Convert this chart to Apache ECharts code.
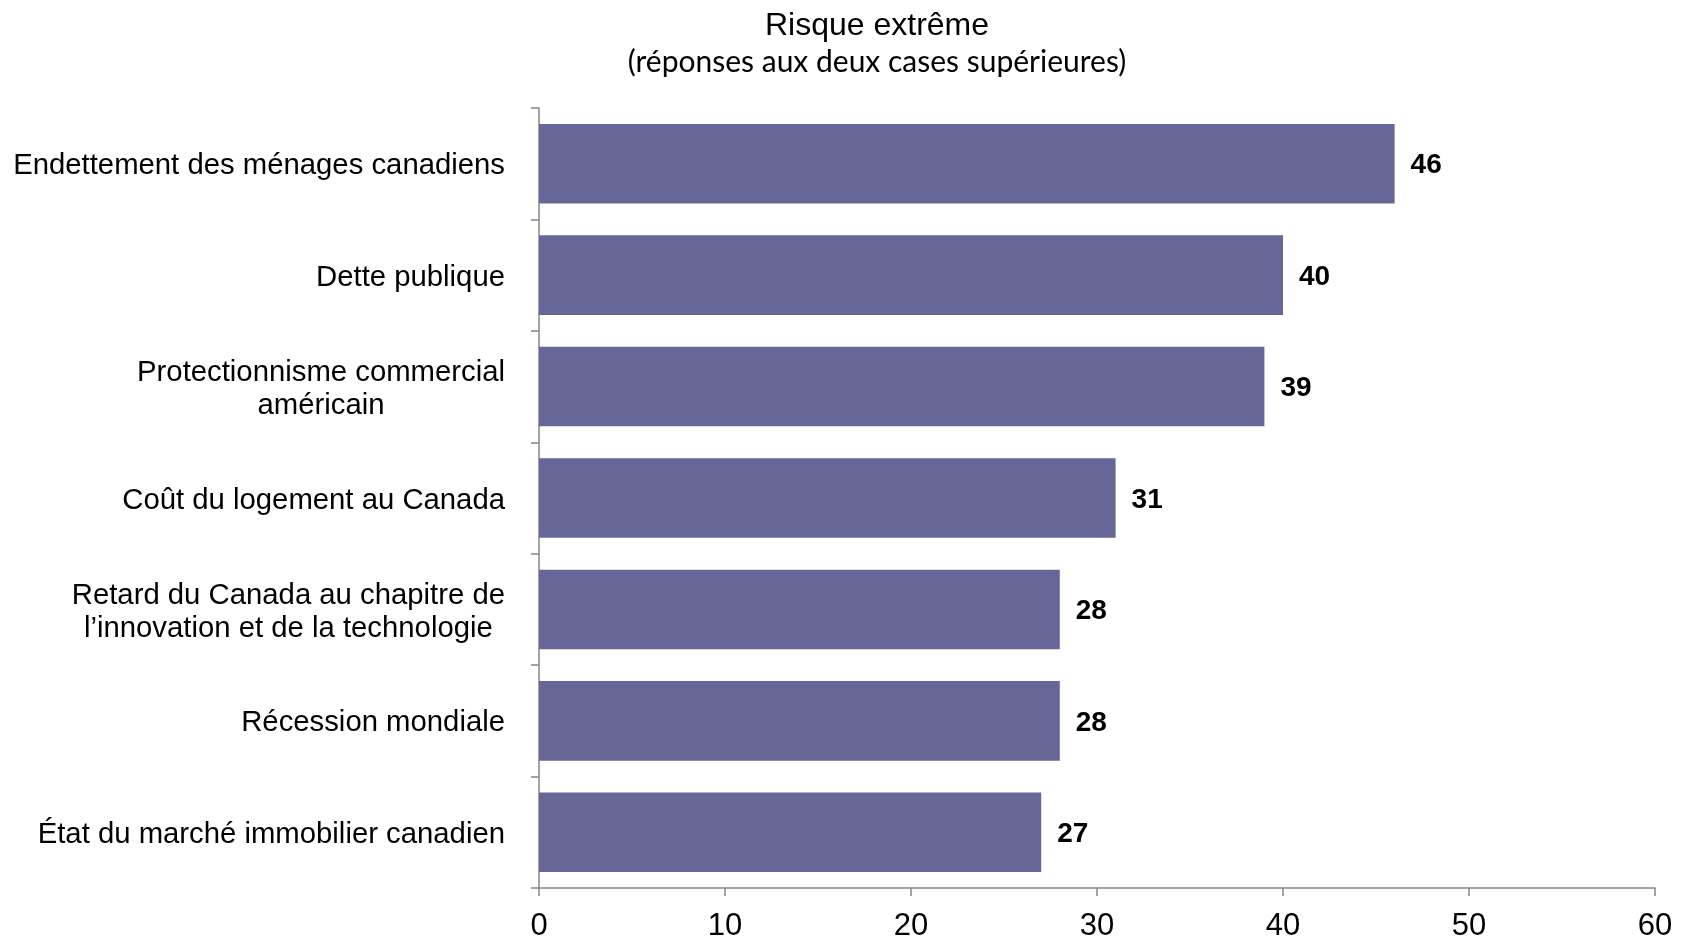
<!DOCTYPE html>
<html>
<head>
<meta charset="utf-8">
<script src="https://cdn.jsdelivr.net/npm/echarts@6/dist/echarts.min.js"></script>
<style>
html,body{margin:0;padding:0;background:#fff;}
#chart{width:1681px;height:942px;}
</style>
</head>
<body>
<div id="chart"></div>
<script>
const categories = [
  'Endettement des ménages canadiens',
  'Dette publique',
  'Protectionnisme commercial\naméricain',
  'Coût du logement au Canada',
  'Retard du Canada au chapitre de\nl’innovation et de la technologie',
  'Récession mondiale',
  'État du marché immobilier canadien'
];
const values = [46, 40, 39, 31, 28, 28, 27];
const xTicks = [0, 10, 20, 30, 40, 50, 60];
const titleText = 'Risque extrême';
const subtitleText = '(réponses aux deux cases supérieures)';

const chart = echarts.init(document.getElementById('chart'), null, {renderer: 'canvas'});
const axisGray = '#868686';
chart.setOption({
  animation: false,
  backgroundColor: '#ffffff',
  title: [
    {
      text: titleText, left: 872, top: 5, textAlign: 'center',
      textStyle: {fontFamily: 'Liberation Sans, Arial', fontSize: 32, fontWeight: 'normal', color: '#000'}
    },
    {
      text: subtitleText, left: 872, top: 42, textAlign: 'center',
      textStyle: {fontFamily: 'Lato', fontSize: 30, fontWeight: 'normal', color: '#000'}
    }
  ],
  grid: {left: 539, right: 26, top: 108, bottom: 52, containLabel: false},
  xAxis: {
    type: 'value',
    min: xTicks[0], max: xTicks[xTicks.length - 1], interval: xTicks[1] - xTicks[0],
    axisLine: {show: true, lineStyle: {color: axisGray, width: 1.5}},
    axisTick: {show: true, length: 8, lineStyle: {color: axisGray, width: 1.5}},
    splitLine: {show: false},
    axisLabel: {margin: 23, fontFamily: 'Liberation Sans, Arial', fontSize: 31, color: '#000'}
  },
  yAxis: {
    type: 'category',
    data: categories,
    inverse: true,
    axisLine: {show: true, lineStyle: {color: axisGray, width: 1.5}},
    axisTick: {show: true, length: 8, alignWithLabel: false, lineStyle: {color: axisGray, width: 1.5}},
    axisLabel: {
      margin: 34,
      align: 'right',
      padding: [5, 0, 0, 0],
      formatter: v => v.split('\n').map(l => '{c|' + l + '}').join('\n'),
      rich: {
        c: {align: 'center', fontFamily: 'Liberation Sans, Arial', fontSize: 29.3, lineHeight: 33, color: '#000'}
      }
    }
  },
  series: [{
    type: 'bar',
    data: values,
    barCategoryGap: '28.6%',
    itemStyle: {color: '#666699'},
    label: {
      show: true, position: 'right', distance: 16, offset: [0, 2],
      fontFamily: 'Liberation Sans, Arial', fontSize: 28, fontWeight: 'bold', color: '#000'
    }
  }]
});
</script>
</body>
</html>
